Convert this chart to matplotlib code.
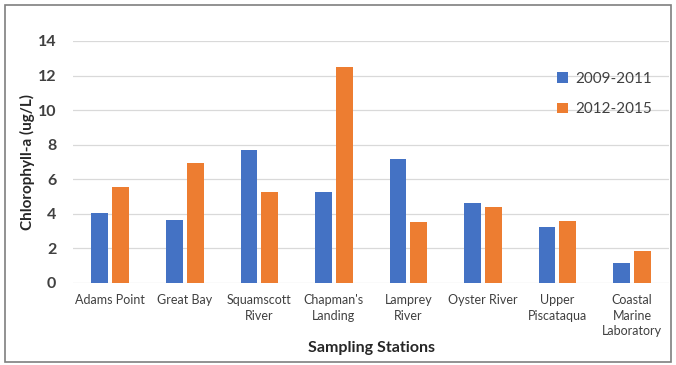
import matplotlib
matplotlib.use('Agg')
import matplotlib.pyplot as plt
import numpy as np
from matplotlib.patches import Rectangle

stations = ['Adams Point', 'Great Bay', 'Squamscott\nRiver', "Chapman's\nLanding",
            'Lamprey\nRiver', 'Oyster River', 'Upper\nPiscataqua',
            'Coastal\nMarine\nLaboratory']
period_a = [4.05, 3.66, 7.67, 5.28, 7.2, 4.6, 3.22, 1.16]
period_b = [5.55, 6.92, 5.24, 12.47, 3.54, 4.37, 3.6, 1.85]
labels = ['2009-2011', '2012-2015']

BLUE = '#4472C4'
ORANGE = '#ED7D31'
GRID = '#d9d9d9'

plt.rcParams['font.family'] = ['Lato', 'DejaVu Sans']

fig = plt.figure(figsize=(6.76, 3.65), dpi=100)
ax = fig.add_axes([0.108, 0.2247, 0.882, 0.663])

x = np.arange(len(stations))
w = 0.225
ax.bar(x - 0.14, period_a, width=w, color=BLUE, label=labels[0], zorder=3)
ax.bar(x + 0.14, period_b, width=w, color=ORANGE, label=labels[1], zorder=3)

ax.set_xlim(-0.5, len(stations) - 0.5)
ax.set_ylim(0, 14)
ax.set_yticks(np.arange(0, 15, 2))
ax.grid(axis='y', color=GRID, lw=0.9, zorder=0)
for sp in ax.spines.values():
    sp.set_visible(False)
ax.tick_params(length=0)
ax.tick_params(axis='y', labelsize=11.5, labelcolor='#404040', pad=12)
for t in ax.get_yticklabels():
    t.set_fontweight('bold')
ax.set_xticks(x)
ax.set_xticklabels(stations, fontsize=9, color='#404040', linespacing=1.35)
ax.tick_params(axis='x', pad=8)

ax.set_ylabel('Chlorophyll-a (ug/L)', fontsize=11, fontweight='bold', color='#262626', labelpad=2)
ax.set_xlabel('Sampling Stations', fontsize=11.5, fontweight='bold', color='#262626', labelpad=3)

ax.legend(loc='upper right', bbox_to_anchor=(0.995, 0.93), frameon=False, fontsize=11,
          handlelength=0.7, handleheight=0.7, handletextpad=0.5, labelspacing=1.1,
          labelcolor='#404040')

fig.patches.append(Rectangle((0.007, 0.008), 0.986, 0.978, transform=fig.transFigure,
                             fill=False, edgecolor='#7f7f7f', lw=1.2))

fig.savefig('out.png', dpi=100)
